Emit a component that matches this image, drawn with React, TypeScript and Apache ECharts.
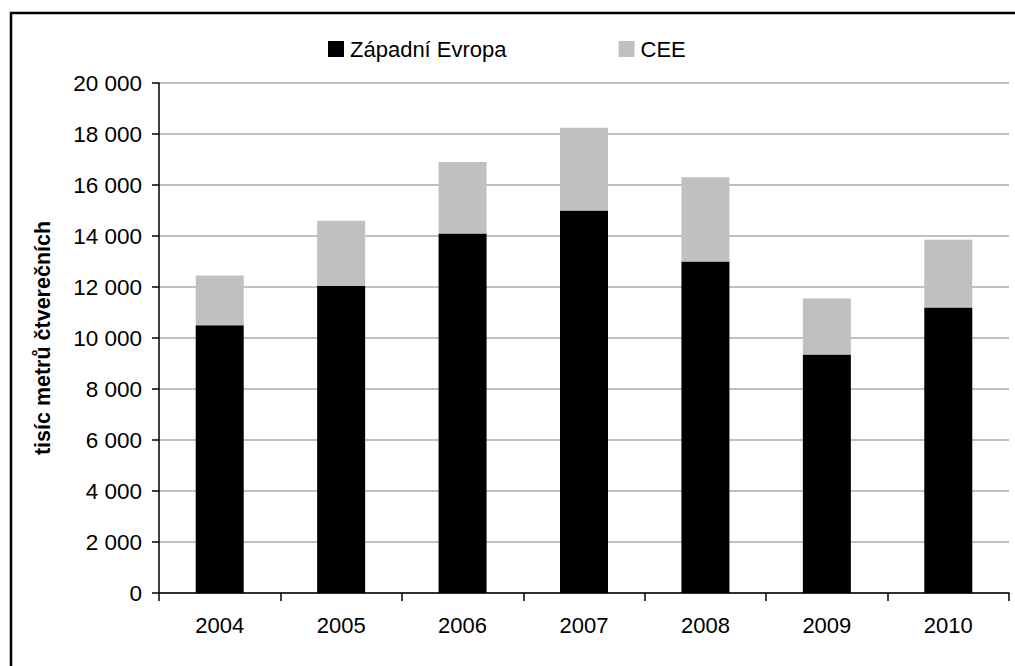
import React, { useEffect, useRef } from "react";
import * as echarts from "echarts";

// Annual volumes in thousands of square metres
const years = ["2004", "2005", "2006", "2007", "2008", "2009", "2010"];
const westernEurope = [10500, 12050, 14100, 15000, 13000, 9350, 11200];
const cee = [1950, 2550, 2800, 3250, 3300, 2200, 2650];
const seriesNames = ["Západní Evropa", "CEE"];
const axisTitle = "tisíc metrů čtverečních";

const FONT = "'Liberation Sans', Arial, sans-serif";

const formatThousands = (v: number) =>
  String(v).replace(/\B(?=(\d{3})+(?!\d))/g, " ");

export default function App() {
  const ref = useRef<HTMLDivElement>(null);

  useEffect(() => {
    if (!ref.current) return;
    const chart = echarts.init(ref.current, undefined, { renderer: "svg" });
    chart.setOption({
      animation: false,
      backgroundColor: "#ffffff",
      textStyle: { fontFamily: FONT, color: "#000" },
      graphic: [
        {
          type: "rect",
          shape: { x: 11, y: 13, width: 1020, height: 700 },
          style: { fill: "none", stroke: "#000", lineWidth: 2.5 },
          z: 100,
        },
      ],
      legend: {
        left: 328,
        top: 38,
        padding: 0,
        itemWidth: 16,
        itemHeight: 16,
        itemGap: 112,
        icon: "rect",
        textStyle: { fontSize: 22, fontFamily: FONT, color: "#000", padding: [0, 0, 0, 1] },
        data: seriesNames,
      },
      grid: { left: 159, right: 6, top: 83, bottom: 73, containLabel: false },
      xAxis: {
        type: "category",
        data: years,
        axisLine: { lineStyle: { color: "#000", width: 1.5 } },
        axisTick: { show: true, length: 8, lineStyle: { color: "#000", width: 1.5 } },
        axisLabel: { fontSize: 22, fontFamily: FONT, color: "#000", margin: 21 },
      },
      yAxis: {
        type: "value",
        min: 0,
        max: 20000,
        interval: 2000,
        name: axisTitle,
        nameLocation: "middle",
        nameRotate: 90,
        nameGap: 105,
        nameTextStyle: { fontSize: 21.5, fontWeight: "bold", fontFamily: FONT, color: "#000" },
        axisLine: { show: true, lineStyle: { color: "#000", width: 1.5 } },
        axisTick: { show: true, length: 7, lineStyle: { color: "#000", width: 1.5 } },
        axisLabel: {
          fontSize: 22.5,
          fontFamily: FONT,
          color: "#000",
          margin: 17,
          formatter: (v: number) => formatThousands(v),
        },
        splitLine: { show: true, lineStyle: { color: "#c0c0c0", width: 2 } },
      },
      series: [
        {
          name: seriesNames[0],
          type: "bar",
          stack: "total",
          data: westernEurope,
          barWidth: 48,
          itemStyle: { color: "#000000" },
        },
        {
          name: seriesNames[1],
          type: "bar",
          stack: "total",
          data: cee,
          barWidth: 48,
          itemStyle: { color: "#c0c0c0" },
        },
      ],
    });
    return () => chart.dispose();
  }, []);

  return (
    <div
      ref={ref}
      style={{ position: "absolute", left: 0, top: 0, width: 1015, height: 666 }}
    />
  );
}
